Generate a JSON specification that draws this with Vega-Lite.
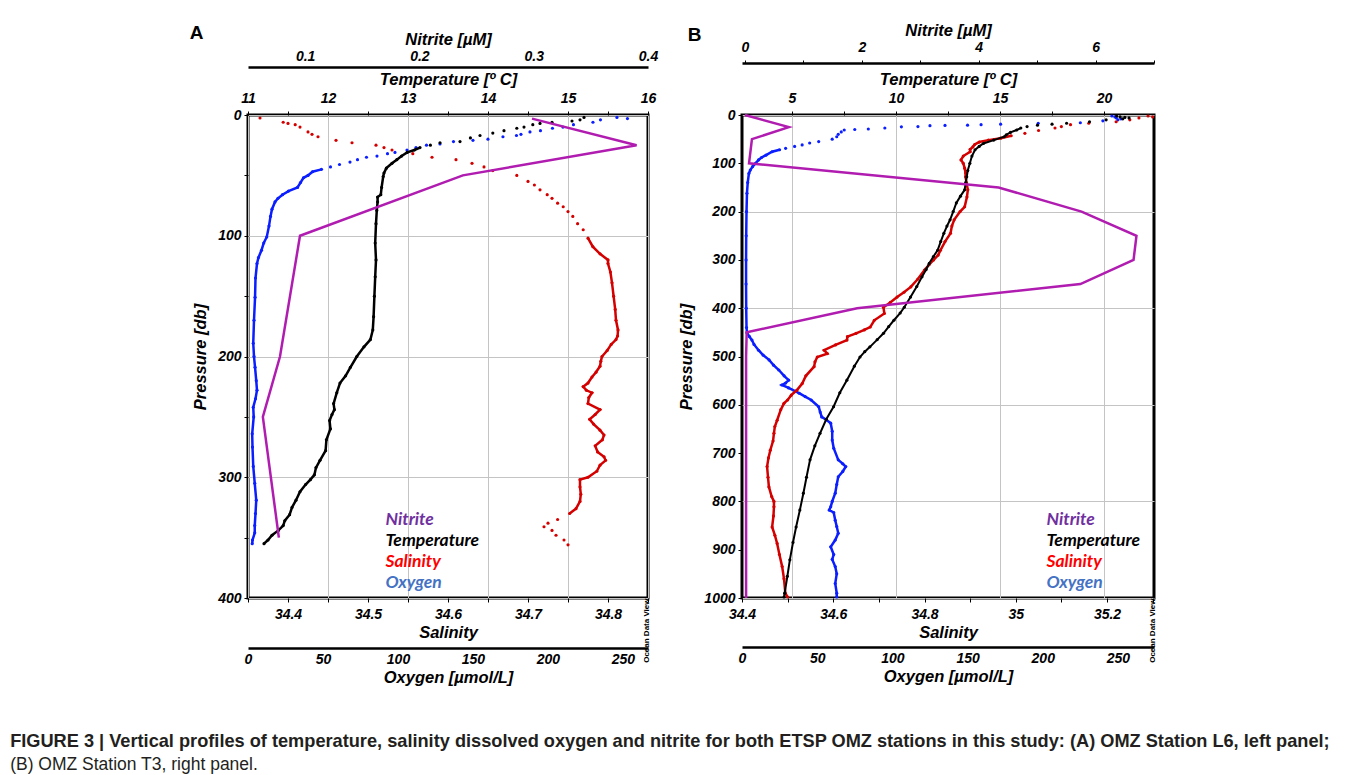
{
  "$schema": "https://vega.github.io/schema/vega-lite/v6.json",
  "background": "white",
  "padding": {"left": 10, "top": 20, "right": 5, "bottom": 2},
  "title": {
    "text": "FIGURE 3 | Vertical profiles of temperature, salinity dissolved oxygen and nitrite for both ETSP OMZ stations in this study: (A) OMZ Station L6, left panel;",
    "subtitle": "(B) OMZ Station T3, right panel.",
    "orient": "bottom",
    "anchor": "start",
    "frame": "bounds",
    "dx": -178,
    "offset": 46,
    "font": "Liberation Sans",
    "fontSize": 18.2,
    "fontWeight": "bold",
    "color": "#231f20",
    "subtitleFont": "Liberation Sans",
    "subtitleFontSize": 17.5,
    "subtitleFontWeight": "normal",
    "subtitleColor": "#231f20",
    "subtitlePadding": 5
  },
  "spacing": 17,
  "resolve": {"scale": {"color": "independent"}, "legend": {"color": "independent"}},
  "datasets": {
    "L6_temperature": [
      {"pressure": 2, "temperature": 15.2}, {"pressure": 4, "temperature": 15.15}, {"pressure": 5, "temperature": 15.05}, {"pressure": 6, "temperature": 14.8}, {"pressure": 7, "temperature": 14.65}, {"pressure": 8, "temperature": 14.56}, {"pressure": 10, "temperature": 14.45}, {"pressure": 11, "temperature": 14.36}, {"pressure": 13, "temperature": 14.2}, {"pressure": 15, "temperature": 14.06}, {"pressure": 17, "temperature": 13.9}, {"pressure": 19, "temperature": 13.78}, {"pressure": 22, "temperature": 13.65}, {"pressure": 23, "temperature": 13.4}, {"pressure": 25, "temperature": 13.28}, {"pressure": 27, "temperature": 13.15}, {"pressure": 29, "temperature": 13.08}, {"pressure": 31, "temperature": 12.99}, {"pressure": 34, "temperature": 12.92}, {"pressure": 37, "temperature": 12.86}, {"pressure": 40, "temperature": 12.8}, {"pressure": 44, "temperature": 12.73}, {"pressure": 48, "temperature": 12.7}, {"pressure": 51, "temperature": 12.69}, {"pressure": 60, "temperature": 12.67}, {"pressure": 66, "temperature": 12.66}, {"pressure": 68, "temperature": 12.62}, {"pressure": 72, "temperature": 12.62}, {"pressure": 79, "temperature": 12.61}, {"pressure": 90, "temperature": 12.6}, {"pressure": 106, "temperature": 12.59}, {"pressure": 120, "temperature": 12.6}, {"pressure": 134, "temperature": 12.59}, {"pressure": 150, "temperature": 12.58}, {"pressure": 167, "temperature": 12.57}, {"pressure": 178, "temperature": 12.56}, {"pressure": 186, "temperature": 12.53}, {"pressure": 192, "temperature": 12.45}, {"pressure": 200, "temperature": 12.36}, {"pressure": 209, "temperature": 12.28}, {"pressure": 216, "temperature": 12.22}, {"pressure": 222, "temperature": 12.15}, {"pressure": 230, "temperature": 12.11}, {"pressure": 239, "temperature": 12.07}, {"pressure": 244, "temperature": 12.08}, {"pressure": 248, "temperature": 12.05}, {"pressure": 253, "temperature": 12.02}, {"pressure": 260, "temperature": 12.03}, {"pressure": 269, "temperature": 11.98}, {"pressure": 278, "temperature": 11.97}, {"pressure": 286, "temperature": 11.9}, {"pressure": 292, "temperature": 11.85}, {"pressure": 298, "temperature": 11.83}, {"pressure": 302, "temperature": 11.78}, {"pressure": 306, "temperature": 11.72}, {"pressure": 312, "temperature": 11.65}, {"pressure": 319, "temperature": 11.6}, {"pressure": 325, "temperature": 11.55}, {"pressure": 331, "temperature": 11.52}, {"pressure": 336, "temperature": 11.46}, {"pressure": 340, "temperature": 11.44}, {"pressure": 344, "temperature": 11.38}, {"pressure": 348, "temperature": 11.3}, {"pressure": 352, "temperature": 11.25}, {"pressure": 355, "temperature": 11.2}
    ],
    "L6_salinity": [
      {"pressure": 2.5, "salinity": 34.365}, {"pressure": 6, "salinity": 34.394}, {"pressure": 7, "salinity": 34.4}, {"pressure": 8, "salinity": 34.409}, {"pressure": 10, "salinity": 34.415}, {"pressure": 14, "salinity": 34.425}, {"pressure": 16, "salinity": 34.43}, {"pressure": 18, "salinity": 34.4375}, {"pressure": 21, "salinity": 34.46}, {"pressure": 23, "salinity": 34.48}, {"pressure": 25, "salinity": 34.51}, {"pressure": 27, "salinity": 34.52}, {"pressure": 29, "salinity": 34.53}, {"pressure": 32, "salinity": 34.556}, {"pressure": 35, "salinity": 34.58}, {"pressure": 37, "salinity": 34.61}, {"pressure": 40, "salinity": 34.63}, {"pressure": 43, "salinity": 34.645}, {"pressure": 46, "salinity": 34.656}, {"pressure": 50, "salinity": 34.686}, {"pressure": 55, "salinity": 34.7}, {"pressure": 58, "salinity": 34.708}, {"pressure": 62, "salinity": 34.715}, {"pressure": 66, "salinity": 34.724}, {"pressure": 69, "salinity": 34.73}, {"pressure": 73, "salinity": 34.737}, {"pressure": 76, "salinity": 34.744}, {"pressure": 80, "salinity": 34.75}, {"pressure": 84, "salinity": 34.756}, {"pressure": 90, "salinity": 34.762}, {"pressure": 95, "salinity": 34.769}, {"pressure": 102, "salinity": 34.775}, {"pressure": 109, "salinity": 34.781}, {"pressure": 115, "salinity": 34.79}, {"pressure": 120, "salinity": 34.8}, {"pressure": 123, "salinity": 34.8}, {"pressure": 130, "salinity": 34.803}, {"pressure": 139, "salinity": 34.805}, {"pressure": 150, "salinity": 34.807}, {"pressure": 161, "salinity": 34.809}, {"pressure": 170, "salinity": 34.81}, {"pressure": 178, "salinity": 34.8125}, {"pressure": 183, "salinity": 34.812}, {"pressure": 186, "salinity": 34.81}, {"pressure": 190, "salinity": 34.804}, {"pressure": 195, "salinity": 34.799}, {"pressure": 200, "salinity": 34.7925}, {"pressure": 204, "salinity": 34.791}, {"pressure": 208, "salinity": 34.79}, {"pressure": 213, "salinity": 34.785}, {"pressure": 217, "salinity": 34.78}, {"pressure": 222, "salinity": 34.775}, {"pressure": 225, "salinity": 34.769}, {"pressure": 228, "salinity": 34.773}, {"pressure": 230, "salinity": 34.78}, {"pressure": 234, "salinity": 34.776}, {"pressure": 239, "salinity": 34.775}, {"pressure": 244, "salinity": 34.79}, {"pressure": 248, "salinity": 34.784}, {"pressure": 252, "salinity": 34.777}, {"pressure": 256, "salinity": 34.782}, {"pressure": 261, "salinity": 34.79}, {"pressure": 265, "salinity": 34.795}, {"pressure": 269, "salinity": 34.793}, {"pressure": 274, "salinity": 34.784}, {"pressure": 279, "salinity": 34.787}, {"pressure": 283, "salinity": 34.795}, {"pressure": 286, "salinity": 34.797}, {"pressure": 290, "salinity": 34.79}, {"pressure": 295, "salinity": 34.786}, {"pressure": 300, "salinity": 34.775}, {"pressure": 302, "salinity": 34.765}, {"pressure": 308, "salinity": 34.765}, {"pressure": 314, "salinity": 34.766}, {"pressure": 320, "salinity": 34.765}, {"pressure": 326, "salinity": 34.76}, {"pressure": 330, "salinity": 34.752}, {"pressure": 335, "salinity": 34.737}, {"pressure": 338, "salinity": 34.725}, {"pressure": 341, "salinity": 34.72}, {"pressure": 344, "salinity": 34.73}, {"pressure": 348, "salinity": 34.735}, {"pressure": 352, "salinity": 34.745}, {"pressure": 356, "salinity": 34.75}
    ],
    "L6_oxygen": [
      {"pressure": 2, "oxygen": 246}, {"pressure": 3, "oxygen": 253}, {"pressure": 4, "oxygen": 235}, {"pressure": 6, "oxygen": 230}, {"pressure": 8, "oxygen": 217}, {"pressure": 10, "oxygen": 210}, {"pressure": 11, "oxygen": 203}, {"pressure": 13, "oxygen": 195}, {"pressure": 14, "oxygen": 188}, {"pressure": 16, "oxygen": 182}, {"pressure": 17, "oxygen": 179}, {"pressure": 18, "oxygen": 170}, {"pressure": 20, "oxygen": 160}, {"pressure": 21, "oxygen": 150}, {"pressure": 22, "oxygen": 137}, {"pressure": 24, "oxygen": 128}, {"pressure": 25, "oxygen": 119}, {"pressure": 27, "oxygen": 112}, {"pressure": 29, "oxygen": 106}, {"pressure": 31, "oxygen": 98}, {"pressure": 32, "oxygen": 93}, {"pressure": 34, "oxygen": 86}, {"pressure": 35, "oxygen": 79}, {"pressure": 37, "oxygen": 73}, {"pressure": 39, "oxygen": 68}, {"pressure": 41, "oxygen": 61}, {"pressure": 43, "oxygen": 55}, {"pressure": 45, "oxygen": 49}, {"pressure": 47, "oxygen": 43}, {"pressure": 50, "oxygen": 40}, {"pressure": 52, "oxygen": 37}, {"pressure": 56, "oxygen": 35}, {"pressure": 60, "oxygen": 33}, {"pressure": 63, "oxygen": 27}, {"pressure": 66, "oxygen": 23}, {"pressure": 69, "oxygen": 20}, {"pressure": 72, "oxygen": 18}, {"pressure": 78, "oxygen": 16}, {"pressure": 84, "oxygen": 15}, {"pressure": 92, "oxygen": 14}, {"pressure": 101, "oxygen": 12.5}, {"pressure": 106, "oxygen": 10.5}, {"pressure": 112, "oxygen": 9}, {"pressure": 118, "oxygen": 7}, {"pressure": 123, "oxygen": 6}, {"pressure": 135, "oxygen": 5}, {"pressure": 151, "oxygen": 4.7}, {"pressure": 170, "oxygen": 4}, {"pressure": 189, "oxygen": 3.5}, {"pressure": 200, "oxygen": 4}, {"pressure": 209, "oxygen": 4.7}, {"pressure": 220, "oxygen": 5.5}, {"pressure": 228, "oxygen": 6}, {"pressure": 235, "oxygen": 5}, {"pressure": 242, "oxygen": 3.5}, {"pressure": 250, "oxygen": 3.8}, {"pressure": 264, "oxygen": 2.8}, {"pressure": 275, "oxygen": 3}, {"pressure": 291, "oxygen": 3.5}, {"pressure": 305, "oxygen": 4.5}, {"pressure": 319, "oxygen": 5.5}, {"pressure": 330, "oxygen": 5}, {"pressure": 340, "oxygen": 4.5}, {"pressure": 346, "oxygen": 4.5}, {"pressure": 352, "oxygen": 3}, {"pressure": 355, "oxygen": 2.8}
    ],
    "L6_nitrite": [
      {"pressure": 3, "nitrite": 0.2985}, {"pressure": 25, "nitrite": 0.39}, {"pressure": 50, "nitrite": 0.238}, {"pressure": 100, "nitrite": 0.0955}, {"pressure": 200, "nitrite": 0.078}, {"pressure": 250, "nitrite": 0.063}, {"pressure": 350, "nitrite": 0.077}
    ],
    "T3_temperature": [
      {"pressure": 2, "temperature": 20.6}, {"pressure": 4, "temperature": 20.77}, {"pressure": 5, "temperature": 21.0}, {"pressure": 6, "temperature": 21.2}, {"pressure": 8, "temperature": 20.9}, {"pressure": 10, "temperature": 20.1}, {"pressure": 14, "temperature": 19.3}, {"pressure": 17, "temperature": 18.2}, {"pressure": 19, "temperature": 17.5}, {"pressure": 21, "temperature": 16.8}, {"pressure": 24, "temperature": 16.3}, {"pressure": 27, "temperature": 16.0}, {"pressure": 31, "temperature": 15.8}, {"pressure": 36, "temperature": 15.5}, {"pressure": 41, "temperature": 15.3}, {"pressure": 45, "temperature": 15.2}, {"pressure": 52, "temperature": 14.7}, {"pressure": 59, "temperature": 14.2}, {"pressure": 65, "temperature": 14.0}, {"pressure": 72, "temperature": 13.8}, {"pressure": 85, "temperature": 13.65}, {"pressure": 100, "temperature": 13.55}, {"pressure": 115, "temperature": 13.45}, {"pressure": 128, "temperature": 13.4}, {"pressure": 140, "temperature": 13.35}, {"pressure": 155, "temperature": 13.3}, {"pressure": 168, "temperature": 13.1}, {"pressure": 182, "temperature": 12.9}, {"pressure": 200, "temperature": 12.75}, {"pressure": 217, "temperature": 12.6}, {"pressure": 230, "temperature": 12.45}, {"pressure": 245, "temperature": 12.3}, {"pressure": 262, "temperature": 12.15}, {"pressure": 280, "temperature": 12.0}, {"pressure": 293, "temperature": 11.8}, {"pressure": 307, "temperature": 11.6}, {"pressure": 320, "temperature": 11.45}, {"pressure": 335, "temperature": 11.25}, {"pressure": 355, "temperature": 11.0}, {"pressure": 377, "temperature": 10.7}, {"pressure": 398, "temperature": 10.4}, {"pressure": 410, "temperature": 10.2}, {"pressure": 425, "temperature": 9.9}, {"pressure": 438, "temperature": 9.65}, {"pressure": 452, "temperature": 9.4}, {"pressure": 465, "temperature": 9.1}, {"pressure": 480, "temperature": 8.75}, {"pressure": 490, "temperature": 8.5}, {"pressure": 501, "temperature": 8.27}, {"pressure": 520, "temperature": 8.0}, {"pressure": 549, "temperature": 7.64}, {"pressure": 575, "temperature": 7.3}, {"pressure": 604, "temperature": 7.0}, {"pressure": 630, "temperature": 6.65}, {"pressure": 659, "temperature": 6.35}, {"pressure": 685, "temperature": 6.1}, {"pressure": 714, "temperature": 5.87}, {"pressure": 750, "temperature": 5.7}, {"pressure": 783, "temperature": 5.55}, {"pressure": 818, "temperature": 5.38}, {"pressure": 853, "temperature": 5.2}, {"pressure": 885, "temperature": 5.05}, {"pressure": 921, "temperature": 4.9}, {"pressure": 955, "temperature": 4.78}, {"pressure": 990, "temperature": 4.65}, {"pressure": 998, "temperature": 4.62}
    ],
    "T3_salinity": [
      {"pressure": 2, "salinity": 35.29}, {"pressure": 4, "salinity": 35.3}, {"pressure": 6, "salinity": 35.27}, {"pressure": 10, "salinity": 35.25}, {"pressure": 14, "salinity": 35.22}, {"pressure": 17, "salinity": 35.16}, {"pressure": 20, "salinity": 35.12}, {"pressure": 24, "salinity": 35.1}, {"pressure": 27, "salinity": 35.086}, {"pressure": 32, "salinity": 35.05}, {"pressure": 38, "salinity": 35.02}, {"pressure": 43, "salinity": 34.99}, {"pressure": 48, "salinity": 34.967}, {"pressure": 52, "salinity": 34.94}, {"pressure": 56, "salinity": 34.92}, {"pressure": 61, "salinity": 34.91}, {"pressure": 66, "salinity": 34.906}, {"pressure": 71, "salinity": 34.9}, {"pressure": 76, "salinity": 34.9}, {"pressure": 85, "salinity": 34.885}, {"pressure": 93, "salinity": 34.88}, {"pressure": 100, "salinity": 34.885}, {"pressure": 110, "salinity": 34.888}, {"pressure": 120, "salinity": 34.89}, {"pressure": 128, "salinity": 34.89}, {"pressure": 140, "salinity": 34.892}, {"pressure": 155, "salinity": 34.895}, {"pressure": 170, "salinity": 34.893}, {"pressure": 190, "salinity": 34.888}, {"pressure": 200, "salinity": 34.878}, {"pressure": 217, "salinity": 34.865}, {"pressure": 230, "salinity": 34.86}, {"pressure": 245, "salinity": 34.857}, {"pressure": 262, "salinity": 34.845}, {"pressure": 280, "salinity": 34.835}, {"pressure": 290, "salinity": 34.83}, {"pressure": 300, "salinity": 34.82}, {"pressure": 310, "salinity": 34.81}, {"pressure": 321, "salinity": 34.8}, {"pressure": 340, "salinity": 34.785}, {"pressure": 356, "salinity": 34.77}, {"pressure": 367, "salinity": 34.755}, {"pressure": 377, "salinity": 34.74}, {"pressure": 388, "salinity": 34.725}, {"pressure": 398, "salinity": 34.71}, {"pressure": 411, "salinity": 34.712}, {"pressure": 425, "salinity": 34.69}, {"pressure": 439, "salinity": 34.681}, {"pressure": 445, "salinity": 34.668}, {"pressure": 452, "salinity": 34.65}, {"pressure": 459, "salinity": 34.631}, {"pressure": 466, "salinity": 34.63}, {"pressure": 476, "salinity": 34.605}, {"pressure": 487, "salinity": 34.58}, {"pressure": 494, "salinity": 34.587}, {"pressure": 501, "salinity": 34.565}, {"pressure": 511, "salinity": 34.56}, {"pressure": 521, "salinity": 34.558}, {"pressure": 540, "salinity": 34.54}, {"pressure": 556, "salinity": 34.532}, {"pressure": 570, "salinity": 34.52}, {"pressure": 580, "salinity": 34.508}, {"pressure": 590, "salinity": 34.5}, {"pressure": 597, "salinity": 34.492}, {"pressure": 610, "salinity": 34.485}, {"pressure": 632, "salinity": 34.477}, {"pressure": 645, "salinity": 34.472}, {"pressure": 659, "salinity": 34.47}, {"pressure": 675, "salinity": 34.468}, {"pressure": 694, "salinity": 34.462}, {"pressure": 710, "salinity": 34.458}, {"pressure": 728, "salinity": 34.455}, {"pressure": 750, "salinity": 34.457}, {"pressure": 770, "salinity": 34.459}, {"pressure": 790, "salinity": 34.465}, {"pressure": 800, "salinity": 34.47}, {"pressure": 811, "salinity": 34.47}, {"pressure": 830, "salinity": 34.469}, {"pressure": 853, "salinity": 34.466}, {"pressure": 870, "salinity": 34.472}, {"pressure": 887, "salinity": 34.477}, {"pressure": 910, "salinity": 34.482}, {"pressure": 935, "salinity": 34.488}, {"pressure": 960, "salinity": 34.492}, {"pressure": 990, "salinity": 34.495}, {"pressure": 998, "salinity": 34.5}
    ],
    "T3_oxygen": [
      {"pressure": 2, "oxygen": 246}, {"pressure": 4, "oxygen": 248}, {"pressure": 6, "oxygen": 249}, {"pressure": 8, "oxygen": 252}, {"pressure": 10, "oxygen": 250}, {"pressure": 12, "oxygen": 240}, {"pressure": 16, "oxygen": 225}, {"pressure": 17, "oxygen": 197}, {"pressure": 19, "oxygen": 172}, {"pressure": 20, "oxygen": 159}, {"pressure": 21, "oxygen": 150}, {"pressure": 21.5, "oxygen": 135}, {"pressure": 22, "oxygen": 125}, {"pressure": 24, "oxygen": 117}, {"pressure": 24.5, "oxygen": 106}, {"pressure": 27, "oxygen": 95}, {"pressure": 29, "oxygen": 84}, {"pressure": 30, "oxygen": 75}, {"pressure": 31, "oxygen": 68}, {"pressure": 35, "oxygen": 66}, {"pressure": 40, "oxygen": 64}, {"pressure": 45, "oxygen": 63}, {"pressure": 50, "oxygen": 60}, {"pressure": 55, "oxygen": 51}, {"pressure": 58, "oxygen": 45}, {"pressure": 62, "oxygen": 40}, {"pressure": 65, "oxygen": 35}, {"pressure": 69, "oxygen": 29}, {"pressure": 72, "oxygen": 25}, {"pressure": 76, "oxygen": 20}, {"pressure": 83, "oxygen": 16}, {"pressure": 88, "oxygen": 13}, {"pressure": 93, "oxygen": 11}, {"pressure": 100, "oxygen": 9}, {"pressure": 107, "oxygen": 7}, {"pressure": 114, "oxygen": 5.5}, {"pressure": 121, "oxygen": 4.6}, {"pressure": 140, "oxygen": 3.8}, {"pressure": 162, "oxygen": 3.3}, {"pressure": 200, "oxygen": 3}, {"pressure": 250, "oxygen": 2.8}, {"pressure": 300, "oxygen": 2.7}, {"pressure": 350, "oxygen": 2.7}, {"pressure": 400, "oxygen": 2.8}, {"pressure": 440, "oxygen": 3}, {"pressure": 451, "oxygen": 3.3}, {"pressure": 459, "oxygen": 5}, {"pressure": 466, "oxygen": 6.6}, {"pressure": 475, "oxygen": 8}, {"pressure": 487, "oxygen": 11}, {"pressure": 497, "oxygen": 14}, {"pressure": 507, "oxygen": 18}, {"pressure": 518, "oxygen": 21}, {"pressure": 528, "oxygen": 24.5}, {"pressure": 540, "oxygen": 28}, {"pressure": 549, "oxygen": 31}, {"pressure": 555, "oxygen": 29}, {"pressure": 559, "oxygen": 26.5}, {"pressure": 565, "oxygen": 31}, {"pressure": 576, "oxygen": 38}, {"pressure": 583, "oxygen": 42}, {"pressure": 590, "oxygen": 46}, {"pressure": 604, "oxygen": 51}, {"pressure": 615, "oxygen": 52}, {"pressure": 625, "oxygen": 53}, {"pressure": 631, "oxygen": 56}, {"pressure": 638, "oxygen": 59}, {"pressure": 655, "oxygen": 60}, {"pressure": 673, "oxygen": 60}, {"pressure": 690, "oxygen": 61}, {"pressure": 714, "oxygen": 64}, {"pressure": 722, "oxygen": 67}, {"pressure": 728, "oxygen": 69}, {"pressure": 738, "oxygen": 67}, {"pressure": 749, "oxygen": 64}, {"pressure": 765, "oxygen": 63}, {"pressure": 783, "oxygen": 62}, {"pressure": 800, "oxygen": 60}, {"pressure": 811, "oxygen": 59}, {"pressure": 818, "oxygen": 58}, {"pressure": 823, "oxygen": 61}, {"pressure": 839, "oxygen": 62}, {"pressure": 852, "oxygen": 63}, {"pressure": 866, "oxygen": 64}, {"pressure": 880, "oxygen": 62}, {"pressure": 894, "oxygen": 59}, {"pressure": 910, "oxygen": 61}, {"pressure": 920, "oxygen": 60}, {"pressure": 935, "oxygen": 62}, {"pressure": 950, "oxygen": 63}, {"pressure": 970, "oxygen": 62}, {"pressure": 990, "oxygen": 63}, {"pressure": 998, "oxygen": 63}
    ],
    "T3_nitrite": [
      {"pressure": 0, "nitrite": 0.0}, {"pressure": 25, "nitrite": 0.75}, {"pressure": 50, "nitrite": 0.12}, {"pressure": 100, "nitrite": 0.07}, {"pressure": 150, "nitrite": 4.34}, {"pressure": 200, "nitrite": 5.76}, {"pressure": 250, "nitrite": 6.7}, {"pressure": 300, "nitrite": 6.65}, {"pressure": 350, "nitrite": 5.74}, {"pressure": 400, "nitrite": 1.92}, {"pressure": 450, "nitrite": 0.03}, {"pressure": 500, "nitrite": 0.02}, {"pressure": 600, "nitrite": 0.02}, {"pressure": 700, "nitrite": 0.02}, {"pressure": 800, "nitrite": 0.02}, {"pressure": 900, "nitrite": 0.02}, {"pressure": 1000, "nitrite": 0.02}
    ]
  },
  "hconcat": [
    {
      "width": 400,
      "height": 483,
      "title": {"text": "A", "anchor": "start", "frame": "bounds", "font": "Liberation Sans", "fontSize": 19, "fontWeight": "bold", "color": "black", "offset": 0, "dy": 12, "dx": -3},
      "resolve": {"scale": {"x": "independent"}, "axis": {"y": "independent"}},
      "layer": [
        {
          "data": {"name": "L6_oxygen"},
          "encoding": {
            "x": {"field": "oxygen", "type": "quantitative", "scale": {"domain": [0, 266.7], "nice": false, "zero": false},
                  "axis": {"orient": "bottom", "offset": 50, "title": "Oxygen [µmol/L]", "values": [0, 50, 100, 150, 200, 250], "format": "d", "domain": true, "domainWidth": 2.5, "ticks": false, "tickSize": 0, "labelPadding": 4, "titlePadding": 3}},
            "y": {"field": "pressure", "type": "quantitative", "scale": {"domain": [0, 400], "reverse": true, "nice": false, "zero": false},
                  "axis": {"orient": "left", "title": "Pressure [db]", "values": [0, 50, 100, 150, 200, 250, 300, 350, 400], "labelExpr": "datum.value % 100 == 0 ? datum.label : ''", "grid": true, "gridOpacity": {"condition": {"test": "datum.value % 100 == 0", "value": 1}, "value": 0}, "tickSize": 4, "labelPadding": 3, "titlePadding": 9}},
            "order": {"field": "pressure", "type": "quantitative"},
            "color": {"datum": "Oxygen", "scale": {"domain": ["Nitrite", "Temperature", "Salinity", "Oxygen"], "range": ["#b01cb0", "#000000", "#d40000", "#0a1eff"]},
                      "legend": {"orient": "none", "legendX": 120, "legendY": 396, "title": null, "symbolSize": 0, "symbolOpacity": 0, "symbolStrokeWidth": 0, "labelOffset": 0, "padding": 0, "rowPadding": 2, "labelFont": "Lato", "labelFontSize": 17.5, "labelFontWeight": "bold", "labelFontStyle": "italic", "labelColor": {"expr": "datum.label === 'Nitrite' ? '#7030a0' : datum.label === 'Salinity' ? '#ff0000' : datum.label === 'Oxygen' ? '#4472c4' : '#000000'"}}}
          },
          "layer": [
            {"transform": [{"filter": "datum.pressure >= 45"}], "mark": {"type": "line", "strokeWidth": 2.5}},
            {"mark": {"type": "circle", "size": 10, "opacity": 1}}
          ]
        },
        {
          "data": {"name": "L6_salinity"},
          "encoding": {
            "x": {"field": "salinity", "type": "quantitative", "scale": {"domain": [34.35, 34.85], "nice": false, "zero": false},
                  "axis": {"orient": "bottom", "title": "Salinity", "values": [34.35, 34.4, 34.45, 34.5, 34.55, 34.6, 34.65, 34.7, 34.75, 34.8, 34.85], "labelExpr": "abs(datum.value*10 - round(datum.value*10)) < 0.001 ? format(datum.value, '.1f') : ''", "tickSize": 4, "labelPadding": 5, "titlePadding": 3}},
            "y": {"field": "pressure", "type": "quantitative", "axis": null},
            "order": {"field": "pressure", "type": "quantitative"},
            "color": {"datum": "Salinity", "scale": {"domain": ["Nitrite", "Temperature", "Salinity", "Oxygen"], "range": ["#b01cb0", "#000000", "#d40000", "#0a1eff"]}}
          },
          "layer": [
            {"transform": [{"filter": "datum.pressure >= 100 && datum.pressure <= 330"}], "mark": {"type": "line", "strokeWidth": 2.5}},
            {"mark": {"type": "circle", "size": 10, "opacity": 1}}
          ]
        },
        {
          "data": {"name": "L6_temperature"},
          "encoding": {
            "x": {"field": "temperature", "type": "quantitative", "scale": {"domain": [11, 16], "nice": false, "zero": false},
                  "axis": {"orient": "top", "title": "Temperature [º C]", "values": [11, 11.5, 12, 12.5, 13, 13.5, 14, 14.5, 15, 15.5, 16], "labelExpr": "datum.value % 1 == 0 ? format(datum.value, 'd') : ''", "grid": true, "gridOpacity": {"condition": {"test": "datum.value % 1 == 0", "value": 1}, "value": 0}, "tickSize": 4, "labelPadding": 6, "titlePadding": 4}},
            "y": {"field": "pressure", "type": "quantitative", "axis": null},
            "order": {"field": "pressure", "type": "quantitative"},
            "color": {"datum": "Temperature", "scale": {"domain": ["Nitrite", "Temperature", "Salinity", "Oxygen"], "range": ["#b01cb0", "#000000", "#d40000", "#0a1eff"]}}
          },
          "layer": [
            {"transform": [{"filter": "datum.pressure >= 27"}], "mark": {"type": "line", "strokeWidth": 2.5}},
            {"mark": {"type": "circle", "size": 10, "opacity": 1}}
          ]
        },
        {
          "data": {"name": "L6_nitrite"},
          "mark": {"type": "line", "strokeWidth": 2.5},
          "encoding": {
            "x": {"field": "nitrite", "type": "quantitative", "scale": {"domain": [0.05, 0.4], "nice": false, "zero": false},
                  "axis": {"orient": "top", "offset": 48, "title": "Nitrite [µM]", "values": [0.1, 0.2, 0.3, 0.4], "format": ".1f", "domain": true, "domainWidth": 2.5, "ticks": false, "tickSize": 0, "labelPadding": 4, "titlePadding": 2}},
            "y": {"field": "pressure", "type": "quantitative",
                  "axis": {"orient": "right", "title": "Ocean Data View", "labels": false, "ticks": false, "domain": false, "grid": false, "titleAngle": 270, "titleAnchor": "end", "titleFontSize": 8, "titleFontStyle": "normal", "titleFontWeight": "bold", "titlePadding": 2}},
            "order": {"field": "pressure", "type": "quantitative"},
            "color": {"datum": "Nitrite", "scale": {"domain": ["Nitrite", "Temperature", "Salinity", "Oxygen"], "range": ["#b01cb0", "#000000", "#d40000", "#0a1eff"]}}
          }
        }
      ]
    },
    {
      "width": 412,
      "height": 483,
      "title": {"text": "B", "anchor": "start", "frame": "bounds", "font": "Liberation Sans", "fontSize": 19, "fontWeight": "bold", "color": "black", "offset": 0, "dy": 23, "dx": 9},
      "resolve": {"scale": {"x": "independent"}, "axis": {"y": "independent"}},
      "layer": [
        {
          "data": {"name": "T3_oxygen"},
          "encoding": {
            "x": {"field": "oxygen", "type": "quantitative", "scale": {"domain": [0, 274], "nice": false, "zero": false},
                  "axis": {"orient": "bottom", "offset": 49, "title": "Oxygen [µmol/L]", "values": [0, 50, 100, 150, 200, 250], "format": "d", "domain": true, "domainWidth": 2.5, "ticks": false, "tickSize": 0, "labelPadding": 4, "titlePadding": 3}},
            "y": {"field": "pressure", "type": "quantitative", "scale": {"domain": [0, 1000], "reverse": true, "nice": false, "zero": false},
                  "axis": {"orient": "left", "title": "Pressure [db]", "values": [0, 100, 200, 300, 400, 500, 600, 700, 800, 900, 1000], "format": "d", "grid": true, "gridOpacity": {"condition": {"test": "datum.value % 200 == 0", "value": 1}, "value": 0}, "tickSize": 4, "labelPadding": 3, "titlePadding": 9}},
            "order": {"field": "pressure", "type": "quantitative"},
            "color": {"datum": "Oxygen", "scale": {"domain": ["Nitrite", "Temperature", "Salinity", "Oxygen"], "range": ["#b01cb0", "#000000", "#d40000", "#0a1eff"]},
                      "legend": {"orient": "none", "legendX": 287, "legendY": 396, "title": null, "symbolSize": 0, "symbolOpacity": 0, "symbolStrokeWidth": 0, "labelOffset": 0, "padding": 0, "rowPadding": 2, "labelFont": "Lato", "labelFontSize": 17.5, "labelFontWeight": "bold", "labelFontStyle": "italic", "labelColor": {"expr": "datum.label === 'Nitrite' ? '#7030a0' : datum.label === 'Salinity' ? '#ff0000' : datum.label === 'Oxygen' ? '#4472c4' : '#000000'"}}}
          },
          "layer": [
            {"transform": [{"filter": "datum.pressure >= 70"}], "mark": {"type": "line", "strokeWidth": 2.5}},
            {"mark": {"type": "circle", "size": 10, "opacity": 1}}
          ]
        },
        {
          "data": {"name": "T3_salinity"},
          "encoding": {
            "x": {"field": "salinity", "type": "quantitative", "scale": {"domain": [34.4, 35.303], "nice": false, "zero": false},
                  "axis": {"orient": "bottom", "title": "Salinity", "values": [34.4, 34.5, 34.6, 34.7, 34.8, 34.9, 35.0, 35.1, 35.2, 35.3], "labelExpr": "round(datum.value*10) % 2 == 0 ? format(datum.value, '.1~f') : ''", "tickSize": 4, "labelPadding": 5, "titlePadding": 3}},
            "y": {"field": "pressure", "type": "quantitative", "axis": null},
            "order": {"field": "pressure", "type": "quantitative"},
            "color": {"datum": "Salinity", "scale": {"domain": ["Nitrite", "Temperature", "Salinity", "Oxygen"], "range": ["#b01cb0", "#000000", "#d40000", "#0a1eff"]}}
          },
          "layer": [
            {"transform": [{"filter": "datum.pressure >= 40"}], "mark": {"type": "line", "strokeWidth": 2.5}},
            {"mark": {"type": "circle", "size": 10, "opacity": 1}}
          ]
        },
        {
          "data": {"name": "T3_temperature"},
          "encoding": {
            "x": {"field": "temperature", "type": "quantitative", "scale": {"domain": [2.6, 22.4], "nice": false, "zero": false},
                  "axis": {"orient": "top", "title": "Temperature [º C]", "values": [5, 7.5, 10, 12.5, 15, 17.5, 20], "labelExpr": "datum.value % 5 == 0 ? format(datum.value, 'd') : ''", "grid": true, "gridOpacity": {"condition": {"test": "datum.value % 5 == 0", "value": 1}, "value": 0}, "tickSize": 4, "labelPadding": 6, "titlePadding": 4}},
            "y": {"field": "pressure", "type": "quantitative", "axis": null},
            "order": {"field": "pressure", "type": "quantitative"},
            "color": {"datum": "Temperature", "scale": {"domain": ["Nitrite", "Temperature", "Salinity", "Oxygen"], "range": ["#b01cb0", "#000000", "#d40000", "#0a1eff"]}}
          },
          "layer": [
            {"transform": [{"filter": "datum.pressure >= 25"}], "mark": {"type": "line", "strokeWidth": 2}},
            {"mark": {"type": "circle", "size": 10, "opacity": 1}}
          ]
        },
        {
          "data": {"name": "T3_nitrite"},
          "mark": {"type": "line", "strokeWidth": 2.5},
          "encoding": {
            "x": {"field": "nitrite", "type": "quantitative", "scale": {"domain": [-0.05, 7.0], "nice": false, "zero": false},
                  "axis": {"orient": "top", "offset": 52, "title": "Nitrite [µM]", "values": [0, 1, 2, 3, 4, 5, 6, 7], "labelExpr": "datum.value % 2 == 0 ? format(datum.value, 'd') : ''", "domain": true, "domainWidth": 2.5, "tickSize": 3, "labelPadding": 6, "titlePadding": 2}},
            "y": {"field": "pressure", "type": "quantitative",
                  "axis": {"orient": "right", "title": "Ocean Data View", "labels": false, "ticks": false, "domain": false, "grid": false, "titleAngle": 270, "titleAnchor": "end", "titleFontSize": 8, "titleFontStyle": "normal", "titleFontWeight": "bold", "titlePadding": 2}},
            "order": {"field": "pressure", "type": "quantitative"},
            "color": {"datum": "Nitrite", "scale": {"domain": ["Nitrite", "Temperature", "Salinity", "Oxygen"], "range": ["#b01cb0", "#000000", "#d40000", "#0a1eff"]}}
          }
        }
      ]
    }
  ],
  "config": {
    "view": {"stroke": "black", "strokeWidth": 3},
    "font": "Liberation Sans",
    "axis": {
      "labelFont": "Liberation Sans", "labelFontSize": 14, "labelFontWeight": "bold", "labelFontStyle": "italic", "labelColor": "black",
      "titleFont": "Liberation Sans", "titleFontSize": 16.5, "titleFontWeight": "bold", "titleFontStyle": "italic", "titleColor": "black",
      "tickColor": "black", "tickWidth": 1, "domainColor": "black", "domain": false, "grid": false,
      "gridColor": "#c4c4c4", "gridWidth": 1, "labelFlush": false, "labelOverlap": false
    }
  }
}
